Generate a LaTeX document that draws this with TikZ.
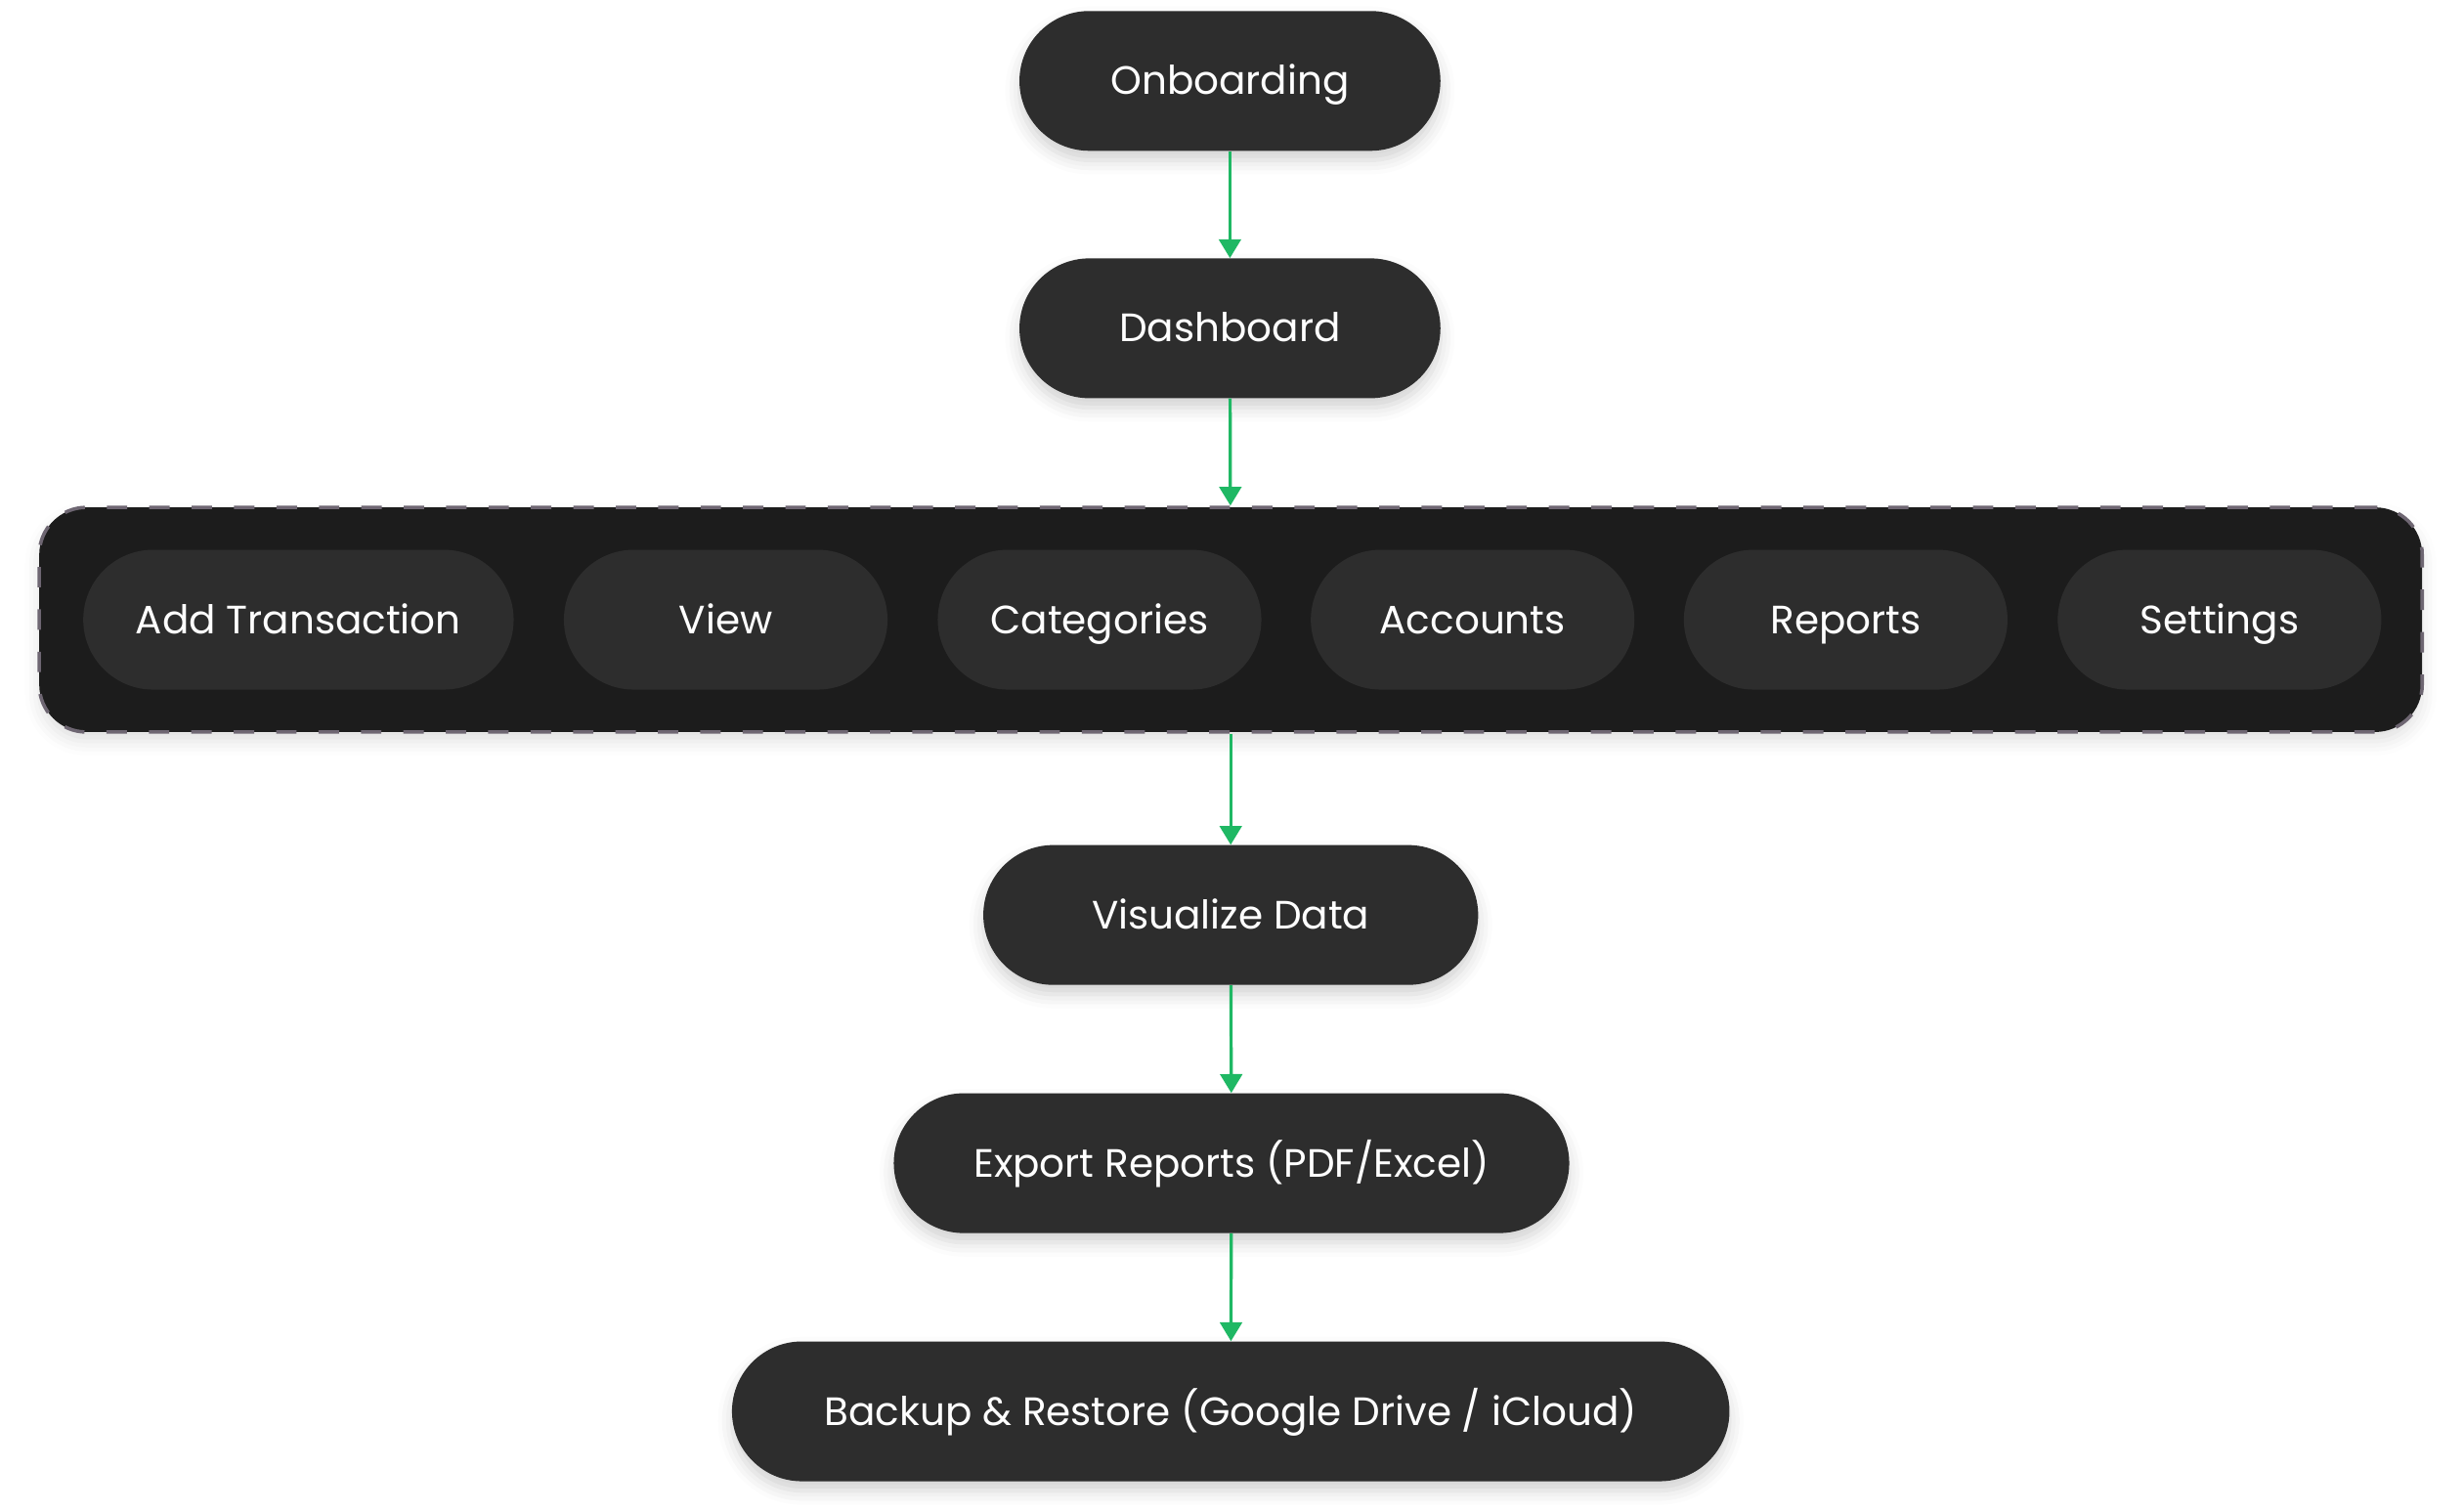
\documentclass[tikz,border=0pt]{standalone}
\usepackage{fontspec}
\setmainfont{Poppins}
\usepackage{tikz}
\usetikzlibrary{arrows.meta,shadows.blur}
\definecolor{pillgray}{HTML}{2D2D2D}
\definecolor{boxgray}{HTML}{1C1C1C}
\definecolor{dashgray}{HTML}{6E6672}
\definecolor{flowgreen}{HTML}{1FB864}
\tikzset{
	pill/.style 2 args={rectangle,rounded corners=44.5pt,fill=pillgray,text=white,minimum width=#1,minimum height=89pt,name=#2,font=\fontsize{25.2}{30}\selectfont,text height=21.5pt,text depth=4pt,blur shadow={shadow xshift=0pt,shadow yshift=-6pt,shadow blur radius=9pt,shadow opacity=18}},
	subpill/.style 2 args={rectangle,rounded corners=44.5pt,fill=pillgray,text=white,minimum width=#1,minimum height=89pt,name=#2,font=\fontsize{25.2}{30}\selectfont,text height=21.5pt,text depth=4pt},
	menubox/.style={rectangle,rounded corners=30pt,fill=boxgray,draw=dashgray,line width=2.2pt,dash pattern=on 13pt off 14pt,minimum width=1517pt,minimum height=143pt,blur shadow={shadow xshift=0pt,shadow yshift=-6pt,shadow blur radius=9pt,shadow opacity=12}},
	flow/.style={draw=flowgreen,line width=2pt,-{Triangle[width=14pt,length=12pt]}}
}
\begin{document}
\begin{tikzpicture}[x=1pt,y=-1pt]
					\useasboundingbox (0,0) rectangle (1568,962);

					\node [pill={268pt}{onboard}] at (783,51.5) {Onboarding};
					\node [pill={268pt}{dash}] at (783,209) {Dashboard};

					\node [menubox] (menu) at (783.5,394.5) {};
					\node [subpill={274pt}{add}] at (190,394.5) {Add Transaction};
					\node [subpill={206pt}{view}] at (462,394.5) {View};
					\node [subpill={206pt}{cat}] at (700,394.5) {Categories};
					\node [subpill={206pt}{acc}] at (937.5,394.5) {Accounts};
					\node [subpill={206pt}{rep}] at (1175,394.5) {Reports};
					\node [subpill={206pt}{set}] at (1413,394.5) {Settings};

					\node [pill={315pt}{vis}] at (783.5,582.5) {Visualize Data};
					\node [pill={430pt}{export}] at (784,740.5) {Export Reports (PDF/Excel)};
					\node [pill={635pt}{backup}] at (783.5,898.5) {Backup \& Restore (Google Drive / iCloud)};

					\draw [flow] (onboard) -- (dash);
					\draw [flow] (dash) -- (menu);
					\draw [flow] (menu) -- (vis);
					\draw [flow] (vis) -- (export);
					\draw [flow] (export) -- (backup);
				\end{tikzpicture}
\end{document}
